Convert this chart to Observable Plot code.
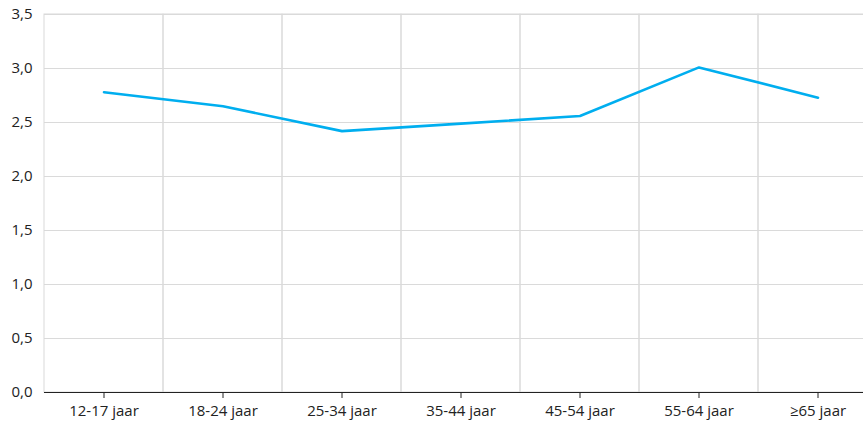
<!DOCTYPE html>
<html>
<head>
<meta charset="utf-8">
<script src="https://cdn.jsdelivr.net/npm/d3@7"></script>
<script src="https://cdn.jsdelivr.net/npm/@observablehq/plot@0.6"></script>
<style>
  html, body { margin: 0; padding: 0; background: #fff; overflow: hidden; }
  #chart svg { display: block; }
</style>
</head>
<body>
<div id="chart"></div>
<script>
const categories = ["12-17 jaar", "18-24 jaar", "25-34 jaar", "35-44 jaar", "45-54 jaar", "55-64 jaar", "≥65 jaar"];
const values = [2.78, 2.65, 2.42, 2.49, 2.56, 3.01, 2.73];
const yTicks = [0, 0.5, 1, 1.5, 2, 2.5, 3, 3.5];

const data = categories.map((c, i) => ({cat: c, value: values[i]}));
const fmt = d => d3.format(".1f")(d).replace(".", ",");

const chart = Plot.plot({
  width: 863,
  height: 431,
  marginLeft: 44,
  marginRight: 0,
  marginTop: 14,
  marginBottom: 39,
  style: {fontFamily: "'Open Sans', sans-serif", fontSize: "15px", color: "#222", background: "#fff"},
  x: {type: "band", domain: categories, range: [43.5, 876.5], padding: 0, label: null},
  y: {domain: [0, 3.5], label: null},
  marks: [
    Plot.ruleY(yTicks.slice(1), {stroke: "#dadada", strokeOpacity: 1}),
    Plot.barY(categories, {x: d => d, y: 3.5, fill: "none", stroke: "#dadada", strokeWidth: 1}),
    Plot.ruleY([0], {stroke: "#222", strokeWidth: 1.2}),
    Plot.axisY({ticks: yTicks, tickFormat: fmt, tickSize: 0, tickPadding: 12, fontSize: 15, fill: "#222"}),
    Plot.axisX({tickSize: 6, tickPadding: 7, fontSize: 15, fill: "#222", stroke: "#222"}),
    Plot.line(data, {x: "cat", y: "value", stroke: "#00aeef", strokeWidth: 2.6, strokeLinejoin: "miter"})
  ]
});
document.getElementById("chart").appendChild(chart);
</script>
</body>
</html>
